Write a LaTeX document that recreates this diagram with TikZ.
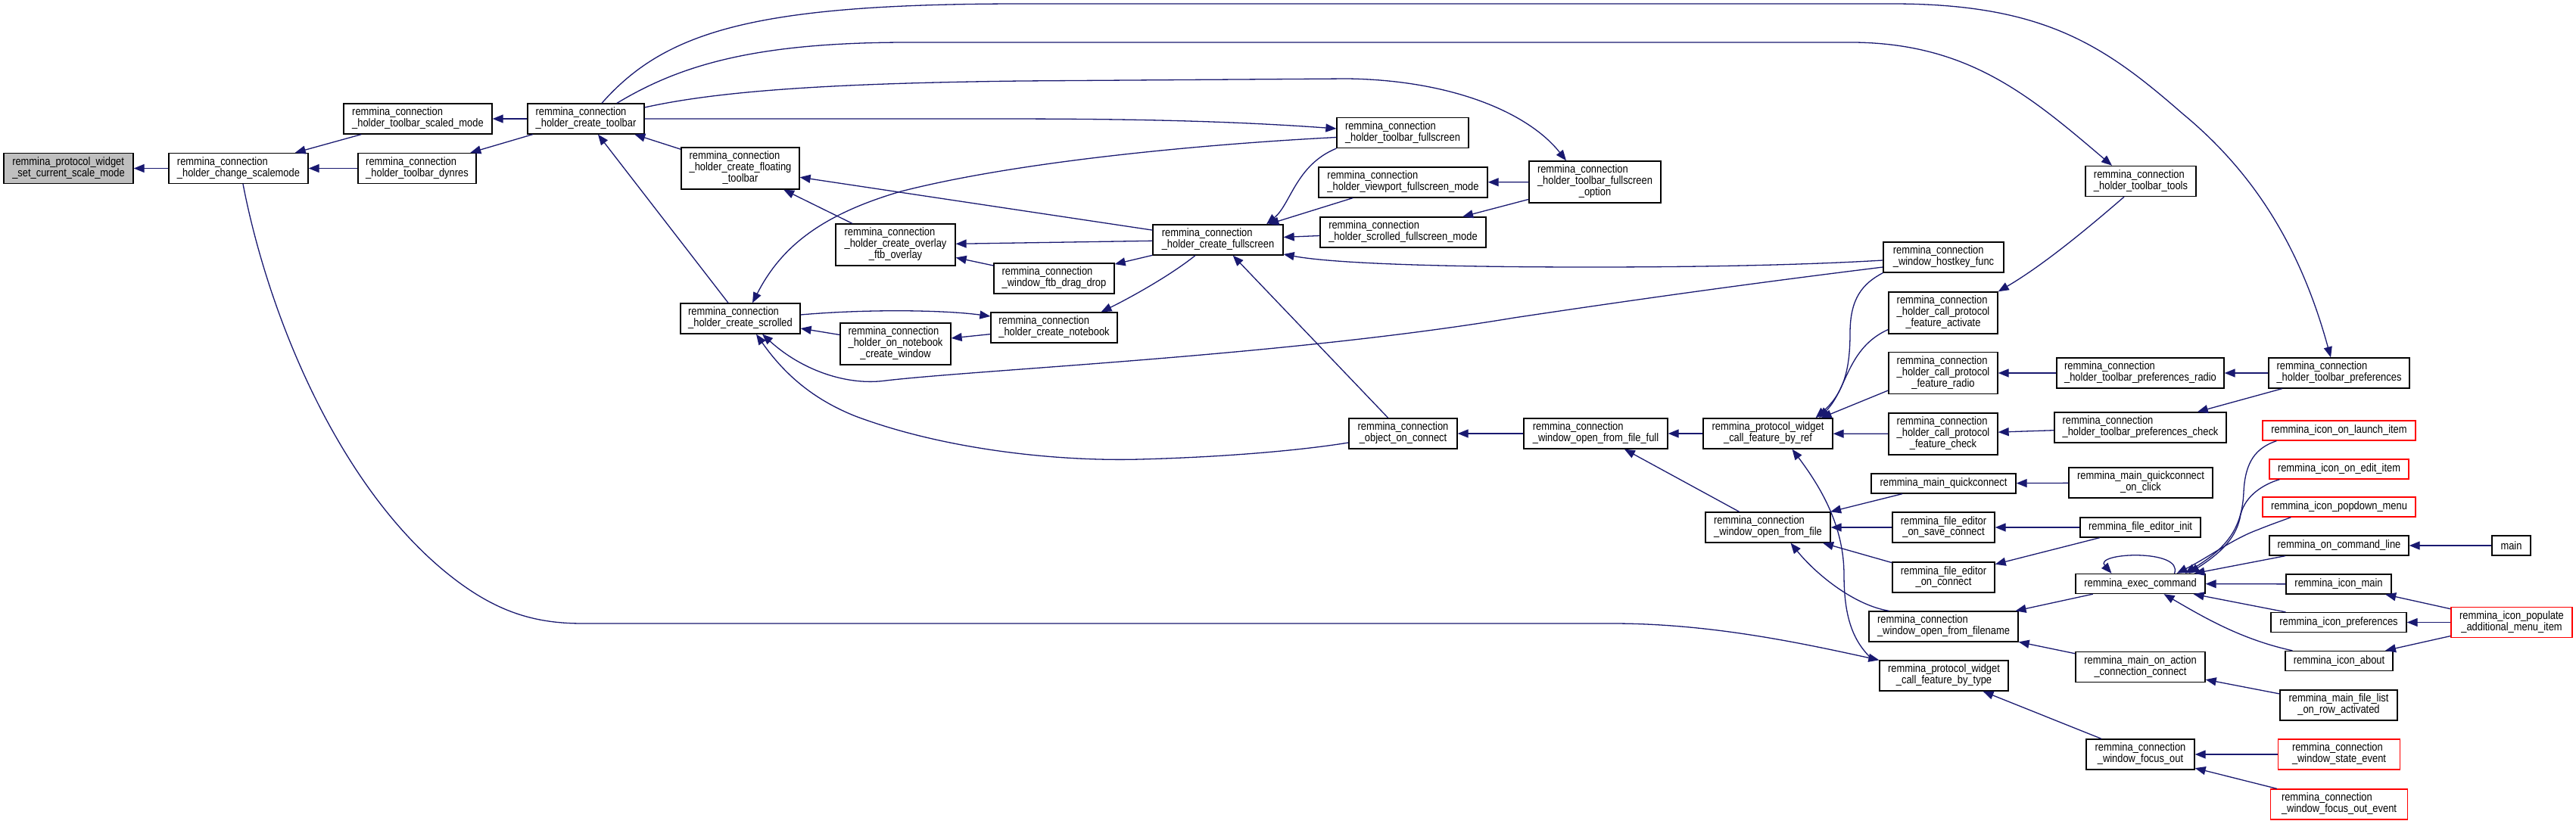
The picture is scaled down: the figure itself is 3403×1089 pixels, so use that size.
\documentclass[tikz,border=0pt]{standalone}
\usepackage{fontspec}
\setmainfont{Liberation Sans}[FakeStretch=0.86]
\usetikzlibrary{arrows.meta}
\definecolor{edgeblue}{HTML}{191970}
\definecolor{curgray}{HTML}{BFBFBF}
\newcommand{\lbl}[2]{\begin{tabular}{@{}l@{}}#1\multicolumn{1}{@{}c@{}}{#2}\end{tabular}}

\begin{document}
\begin{tikzpicture}[x=1pt, y=-1pt,
fn/.style={rectangle, draw=black, line width=1.3pt, fill=white, inner sep=0pt,
minimum height=40pt, font=\fontsize{15}{14.5}\selectfont},
fn3/.style={fn, minimum height=55pt},
fn1/.style={fn, minimum height=26pt},
missing/.style={draw=red},
cur/.style={fill=curgray},
arr/.style={<-, draw=edgeblue, line width=1.3pt},
>={Triangle[length=14pt, width=11pt]}
]
\useasboundingbox (0,0) rectangle (3403,1089);

\node[fn, cur, minimum width=171pt] (setmode) at (90.5,222.5) {\lbl{remmina\_protocol\_widget\\}{\_set\_current\_scale\_mode}};
\node[fn, minimum width=184pt] (chgmode) at (315,222.5) {\lbl{remmina\_connection\\}{\_holder\_change\_scalemode}};
\node[fn, minimum width=196pt] (scaled) at (552,157) {\lbl{remmina\_connection\\}{\_holder\_toolbar\_scaled\_mode}};
\node[fn, minimum width=156pt] (dynres) at (551,222.5) {\lbl{remmina\_connection\\}{\_holder\_toolbar\_dynres}};
\node[fn, minimum width=154pt] (mktoolbar) at (774,157) {\lbl{remmina\_connection\\}{\_holder\_create\_toolbar}};
\node[fn3, minimum width=156pt] (floating) at (978,222.5) {\lbl{remmina\_connection\\\_holder\_create\_floating\\}{\_toolbar}};
\node[fn, minimum width=158pt] (scrolled) at (978,421) {\lbl{remmina\_connection\\}{\_holder\_create\_scrolled}};
\node[fn3, minimum width=158pt] (overlay) at (1183,323.5) {\lbl{remmina\_connection\\\_holder\_create\_overlay\\}{\_ftb\_overlay}};
\node[fn3, minimum width=146pt] (nbwin) at (1183,454.5) {\lbl{remmina\_connection\\\_holder\_on\_notebook\\}{\_create\_window}};
\node[fn, minimum width=159pt] (dragdrop) at (1392.5,368) {\lbl{remmina\_connection\\}{\_window\_ftb\_drag\_drop}};
\node[fn, minimum width=167pt] (notebook) at (1392.5,433) {\lbl{remmina\_connection\\}{\_holder\_create\_notebook}};
\node[fn, minimum width=172pt] (fullscr) at (1609,317) {\lbl{remmina\_connection\\}{\_holder\_create\_fullscreen}};
\node[fn, minimum width=143pt] (objconn) at (1853.5,573) {\lbl{remmina\_connection\\}{\_object\_on\_connect}};
\node[fn, minimum width=174pt] (tbfull) at (1853,175.5) {\lbl{remmina\_connection\\}{\_holder\_toolbar\_fullscreen}};
\node[fn, minimum width=223pt] (viewport) at (1853.5,241) {\lbl{remmina\_connection\\}{\_holder\_viewport\_fullscreen\_mode}};
\node[fn, minimum width=219pt] (scrfull) at (1853.5,307) {\lbl{remmina\_connection\\}{\_holder\_scrolled\_fullscreen\_mode}};
\node[fn3, minimum width=174pt] (tbopt) at (2107,240.5) {\lbl{remmina\_connection\\\_holder\_toolbar\_fullscreen\\}{\_option}};
\node[fn, minimum width=190pt] (openfull) at (2108,573) {\lbl{remmina\_connection\\}{\_window\_open\_from\_file\_full}};
\node[fn, minimum width=171pt] (byref) at (2335.5,573) {\lbl{remmina\_protocol\_widget\\}{\_call\_feature\_by\_ref}};
\node[fn, minimum width=165pt] (openfile) at (2335.5,697) {\lbl{remmina\_connection\\}{\_window\_open\_from\_file}};
\node[fn, minimum width=159pt] (hostkey) at (2567.5,340) {\lbl{remmina\_connection\\}{\_window\_hostkey\_func}};
\node[fn3, minimum width=144pt] (activate) at (2567,413.5) {\lbl{remmina\_connection\\\_holder\_call\_protocol\\}{\_feature\_activate}};
\node[fn3, minimum width=144pt] (radio) at (2567,493) {\lbl{remmina\_connection\\\_holder\_call\_protocol\\}{\_feature\_radio}};
\node[fn3, minimum width=144pt] (check) at (2567,573.5) {\lbl{remmina\_connection\\\_holder\_call\_protocol\\}{\_feature\_check}};
\node[fn1, minimum width=191pt] (quick) at (2567.5,639) {remmina\_main\_quickconnect};
\node[fn, minimum width=135pt] (saveconn) at (2567.5,697) {\lbl{remmina\_file\_editor\\}{\_on\_save\_connect}};
\node[fn, minimum width=135pt] (edconn) at (2567.5,763) {\lbl{remmina\_file\_editor\\}{\_on\_connect}};
\node[fn, minimum width=197pt] (openname) at (2567.5,828) {\lbl{remmina\_connection\\}{\_window\_open\_from\_filename}};
\node[fn, minimum width=170pt] (bytype) at (2568,893) {\lbl{remmina\_protocol\_widget\\}{\_call\_feature\_by\_type}};
\node[fn, minimum width=146pt] (tools) at (2828,239.5) {\lbl{remmina\_connection\\}{\_holder\_toolbar\_tools}};
\node[fn, minimum width=221pt] (prefradio) at (2827.5,493) {\lbl{remmina\_connection\\}{\_holder\_toolbar\_preferences\_radio}};
\node[fn, minimum width=227pt] (prefcheck) at (2827.5,565) {\lbl{remmina\_connection\\}{\_holder\_toolbar\_preferences\_check}};
\node[fn, minimum width=190pt] (quickclick) at (2828,638) {\lbl{remmina\_main\_quickconnect\\}{\_on\_click}};
\node[fn1, minimum width=159pt] (edinit) at (2827.5,697) {remmina\_file\_editor\_init};
\node[fn1, minimum width=171pt] (exec) at (2827.5,771.5) {remmina\_exec\_command};
\node[fn, minimum width=171pt] (action) at (2827.5,881.5) {\lbl{remmina\_main\_on\_action\\}{\_connection\_connect}};
\node[fn, minimum width=143pt] (focusout) at (2827.5,997) {\lbl{remmina\_connection\\}{\_window\_focus\_out}};
\node[fn, minimum width=186pt] (prefs) at (3090,493) {\lbl{remmina\_connection\\}{\_holder\_toolbar\_preferences}};
\node[fn1, missing, minimum width=202pt] (launch) at (3090,569) {remmina\_icon\_on\_launch\_item};
\node[fn1, missing, minimum width=184pt] (edit) at (3090,620) {remmina\_icon\_on\_edit\_item};
\node[fn1, missing, minimum width=202pt] (popdown) at (3090,670) {remmina\_icon\_popdown\_menu};
\node[fn1, minimum width=184pt] (cmdline) at (3090,721) {remmina\_on\_command\_line};
\node[fn1, minimum width=139pt] (iconmain) at (3089.5,772) {remmina\_icon\_main};
\node[fn1, minimum width=179pt] (iconpref) at (3089.5,822.5) {remmina\_icon\_preferences};
\node[fn1, minimum width=142pt] (about) at (3090,873.5) {remmina\_icon\_about};
\node[fn, minimum width=155pt] (rowact) at (3089.5,932) {\lbl{remmina\_main\_file\_list\\}{\_on\_row\_activated}};
\node[fn, missing, minimum width=161pt] (state) at (3090,997) {\lbl{remmina\_connection\\}{\_window\_state\_event}};
\node[fn, missing, minimum width=181pt] (focusev) at (3090,1063) {\lbl{remmina\_connection\\}{\_window\_focus\_out\_event}};
\node[fn1, minimum width=51pt] (main) at (3317.5,721) {main};
\node[fn, missing, minimum width=160pt] (populate) at (3318,822.5) {\lbl{remmina\_icon\_populate\\}{\_additional\_menu\_item}};

\draw[arr] (setmode) -- (chgmode);
\draw[arr] (chgmode) -- (scaled);
\draw[arr] (chgmode) -- (dynres);
\draw[arr] (scaled) -- (mktoolbar);
\draw[arr] (dynres) -- (mktoolbar);
\draw[arr] (mktoolbar) -- (floating);
\draw[arr] (mktoolbar) -- (scrolled);
\draw[arr] (floating) -- (overlay);
\draw[arr] (floating) -- (fullscr);
\draw[arr] (overlay) -- (fullscr);
\draw[arr] (overlay) -- (dragdrop);
\draw[arr] (dragdrop) -- (fullscr);
\draw[arr] ([xshift=62pt]notebook.north) .. controls (1490,395) and (1545,365) .. ([xshift=-30pt]fullscr.south);
\draw[arr] ([xshift=16pt]scrolled.north) .. controls (1030,330) and (1080,285) .. (1190,253)
.. controls (1350,212) and (1600,190) .. ([yshift=-6pt]tbfull.west);
\draw[arr] ([yshift=5.5pt]tbfull.west) .. controls (1600,158) and (1450,157) .. (1300,157) -- (mktoolbar.east);
\draw[arr] ([xshift=-38pt]tbopt.north) .. controls (2020,150) and (1920,106) .. (1780,104) -- (1350,107)
.. controls (1100,110) and (950,120) .. ([yshift=15pt]mktoolbar.east);
\draw[arr] ([xshift=-38pt]tools.north) .. controls (2680,125) and (2600,58) .. (2450,56) -- (1200,56)
.. controls (1000,56) and (900,85) .. ([xshift=41pt]mktoolbar.north);
\draw[arr] ([xshift=-11pt]prefs.north) .. controls (3040,330) and (2980,230) .. (2883,150)
.. controls (2780,60) and (2700,5) .. (2500,5) -- (1350,5) .. controls (1000,5) and (880,40) .. ([xshift=21pt]mktoolbar.north);
\draw[arr] ([xshift=29pt]scrolled.south) .. controls (1060,490) and (1120,510) .. (1170,503)
.. controls (1300,488) and (1700,470) .. (2000,420) .. controls (2200,390) and (2350,370) .. ([yshift=-13pt]hostkey.west);
\draw[arr] ([xshift=21pt]scrolled.south) .. controls (1040,500) and (1080,530) .. (1130,550)
.. controls (1250,595) and (1400,610) .. (1506,607) .. controls (1620,604) and (1720,595) .. ([yshift=-12pt]objconn.west);
\draw[arr] ([xshift=64pt]fullscr.north) .. controls (1705,270) and (1712,218) .. (tbfull.south west);
\draw[arr] (fullscr) -- (viewport);
\draw[arr] (fullscr) -- (scrfull);
\draw[arr] ([yshift=-19pt]fullscr.east) .. controls (1760,348) and (1900,353) .. (2100,353)
.. controls (2300,353) and (2420,348) .. ([yshift=-4pt]hostkey.west);
\draw[arr] (viewport) -- (tbopt);
\draw[arr] (scrfull) -- (tbopt);
\draw[arr] (objconn) -- (openfull);
\draw[arr] (fullscr) -- (objconn);
\draw[arr] (openfull) -- (byref);
\draw[arr] (openfull) -- (openfile);
\draw[arr] (byref) -- (check);
\draw[arr] ([xshift=67.5pt]byref.north) .. controls (2440,515) and (2440,460) .. ([yshift=-22pt]activate.west);
\draw[arr] ([xshift=63pt]byref.north) .. controls (2435,520) and (2444,490) .. (2444,440)
.. controls (2444,395) and (2460,375) .. (hostkey.south west);
\draw[arr] ([xshift=70pt]byref.north) -- ([yshift=-23pt]radio.west);
\draw[arr] (activate.north east) .. controls (2700,350) and (2760,300) .. ([xshift=-22pt]tools.south);
\draw[arr] (radio) -- (prefradio);
\draw[arr] (prefradio) -- (prefs);
\draw[arr] (prefcheck) -- (prefs);
\draw[arr] (check) -- (prefcheck);
\draw[arr] (openfile) -- (quick);
\draw[arr] (quick) -- (quickclick);
\draw[arr] (openfile) -- (saveconn);
\draw[arr] (saveconn) -- (edinit);
\draw[arr] (openfile) -- (edconn);
\draw[arr] (edconn) -- (edinit);
\draw[arr] (openname) -- (exec);
\draw[arr] ([xshift=30pt]openfile.south) .. controls (2400,760) and (2450,800) .. ([xshift=-72pt]openname.north);
\draw[arr] (openname) -- (action);
\draw[arr] ([xshift=32pt]byref.south) .. controls (2410,650) and (2436,700) .. (2436,760)
.. controls (2436,820) and (2450,850) .. ([xshift=-8pt]bytype.north west);
\draw[arr] (bytype.north west) .. controls (2380,850) and (2260,824) .. (2130,824) -- (770,824)
.. controls (710,824) and (660,811) .. (600,765) .. controls (450,650) and (355,420) .. ([xshift=6pt]chgmode.south);
\draw[arr] (bytype) -- (focusout);
\draw[arr] (focusout) -- (state);
\draw[arr] (focusout) -- (focusev);
\draw[arr] ([xshift=-38pt]exec.north) .. controls (2765,730) and (2885,725) .. ([xshift=45pt]exec.north);
\draw[arr] ([xshift=59pt]exec.north) .. controls (2940,725) and (2962,700) .. (2964,650)
.. controls (2966,610) and (2980,592) .. ([xshift=19pt]launch.south west);
\draw[arr] ([xshift=64pt]exec.north) .. controls (2935,730) and (2955,710) .. (2960,680)
.. controls (2966,655) and (2990,640) .. ([xshift=14pt]edit.south west);
\draw[arr] ([xshift=48pt]exec.north) .. controls (2920,735) and (2950,712) .. (2983,700)
.. controls (3000,693) and (3015,688) .. ([xshift=38pt]popdown.south west);
\draw[arr] (exec) -- (cmdline);
\draw[arr] (exec) -- (iconmain);
\draw[arr] (exec) -- (iconpref);
\draw[arr] ([xshift=31pt]exec.south) .. controls (2910,815) and (2960,845) .. ([xshift=10pt]about.north west);
\draw[arr] (cmdline) -- (main);
\draw[arr] (iconmain) -- (populate);
\draw[arr] (iconpref) -- (populate);
\draw[arr] (about) -- (populate);
\draw[arr] (action) -- (rowact);
\draw[arr] ([yshift=15pt]notebook.west) .. controls (1250,410) and (1150,408) .. ([yshift=5pt]scrolled.east);
\draw[arr] (scrolled) -- (nbwin);
\draw[arr] (nbwin) -- (notebook);
\end{tikzpicture}
\end{document}
